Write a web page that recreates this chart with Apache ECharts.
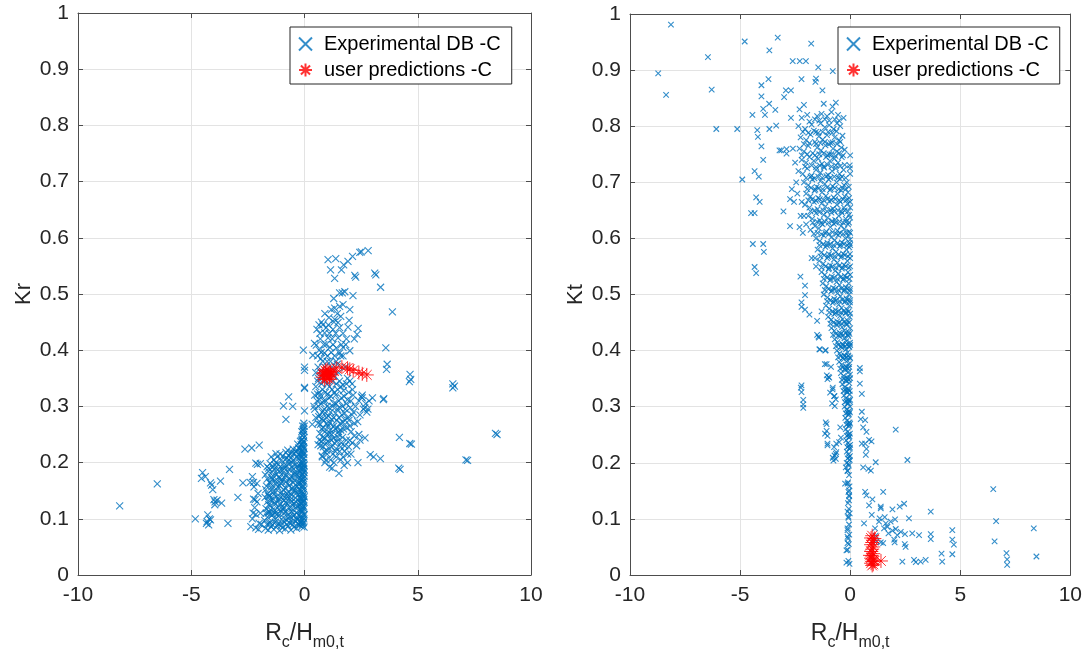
<!DOCTYPE html>
<html><head><meta charset="utf-8">
<script src="https://cdn.jsdelivr.net/npm/echarts@6/dist/echarts.min.js"></script>
<style>html,body{margin:0;padding:0;background:#fff}#c{width:1085px;height:656px}</style>
</head><body><div id="c"></div>
<script>
// ---------- DATA ----------
const seriesNames = ['Experimental DB -C', 'user predictions -C'];
const xMin = -10, xMax = 10, xStep = 5;
const yMin = 0, yMax = 1, yStep = 0.1;
const yNames = ['Kr', 'Kt'];

// Kr (left) experimental: sparse points far left
const krExpSparse = [[-8.16,0.123],[-6.5,0.162],[-4.82,0.1],[-4.5,0.182],[-4.55,0.172],[-4.38,0.175],[-4.15,0.164],[-4.33,0.092],[-4.23,0.089],[-4.27,0.107],[-4.15,0.098],[-4.3,0.095],[-4.2,0.1],[-4.05,0.152],[-4.1,0.16],[-4.0,0.134],[-3.95,0.13],[-3.96,0.125],[-3.86,0.133],[-3.66,0.128],[-3.71,0.167],[-3.31,0.188],[-3.38,0.092],[-2.94,0.138],[-2.72,0.164],[-2.63,0.224],[-2.33,0.226],[-2.0,0.231],[-2.15,0.199],[-2.08,0.197],[-1.95,0.198],[-2.3,0.175],[-2.23,0.157],[-2.25,0.165],[-2.1,0.163],[-2.4,0.165],[-2.05,0.145],[-2.18,0.134],[-2.25,0.135],[-2.1,0.13],[-2.2,0.12],[-2.27,0.11],[-2.15,0.108],[-1.95,0.11],[-2.3,0.1],[-2.37,0.086],[-2.15,0.084],[-2.0,0.092],[-2.03,0.081],[-1.9,0.09]];
// Kr experimental: dense block just below zero
const krExpBlock = [[-1.72,0.083],[-1.6,0.08],[-1.48,0.086],[-1.35,0.081],[-1.22,0.088],[-1.1,0.079],[-0.98,0.084],[-0.85,0.082],[-0.72,0.087],[-0.6,0.08],[-0.47,0.085],[-0.35,0.083],[-0.22,0.089],[-0.12,0.086],[-0.05,0.093],
[-1.76,0.097],[-1.63,0.103],[-1.52,0.094],[-1.4,0.108],[-1.28,0.099],[-1.16,0.105],[-1.03,0.093],[-0.91,0.11],[-0.8,0.098],[-0.67,0.104],[-0.55,0.095],[-0.43,0.107],[-0.3,0.099],[-0.18,0.104],[-0.08,0.097],[-0.02,0.108],
[-1.7,0.118],[-1.58,0.125],[-1.45,0.114],[-1.33,0.128],[-1.2,0.119],[-1.07,0.126],[-0.95,0.116],[-0.83,0.129],[-0.7,0.12],[-0.58,0.113],[-0.46,0.127],[-0.34,0.118],[-0.23,0.125],[-0.12,0.114],[-0.04,0.122],
[-1.74,0.138],[-1.62,0.145],[-1.5,0.133],[-1.37,0.148],[-1.25,0.139],[-1.12,0.135],[-1.0,0.147],[-0.88,0.138],[-0.76,0.144],[-0.63,0.134],[-0.51,0.149],[-0.39,0.137],[-0.27,0.143],[-0.15,0.136],[-0.06,0.146],[-0.01,0.139],
[-1.68,0.158],[-1.55,0.165],[-1.43,0.153],[-1.3,0.168],[-1.18,0.157],[-1.05,0.163],[-0.93,0.152],[-0.81,0.166],[-0.68,0.159],[-0.56,0.154],[-0.44,0.169],[-0.32,0.158],[-0.2,0.164],[-0.1,0.155],[-0.03,0.167],
[-1.73,0.178],[-1.6,0.185],[-1.47,0.174],[-1.35,0.188],[-1.22,0.179],[-1.1,0.172],[-0.97,0.186],[-0.85,0.177],[-0.73,0.183],[-0.6,0.175],[-0.48,0.189],[-0.36,0.179],[-0.25,0.186],[-0.14,0.176],[-0.05,0.184],
[-1.65,0.193],[-1.52,0.198],[-1.4,0.192],[-1.15,0.197],[-1.02,0.205],[-0.9,0.194],[-0.78,0.208],[-0.65,0.199],[-0.52,0.204],[-0.4,0.196],[-0.28,0.207],[-0.17,0.198],[-0.08,0.205],[-0.02,0.195],
[-0.95,0.212],[-0.82,0.218],[-0.62,0.215],[-0.5,0.224],[-0.38,0.219],[-0.26,0.226],[-0.15,0.217],[-0.07,0.228],[-0.03,0.214],
[-0.3,0.233],[-0.18,0.238],[-0.1,0.242],[-0.05,0.25],[-0.12,0.255],[-0.04,0.26],[-0.08,0.265],[-0.02,0.245],[-0.06,0.236],
[-0.25,0.09],[-0.15,0.095],[-0.1,0.12],[-0.2,0.13],[-0.08,0.14],[-0.18,0.15],[-0.28,0.165],[-0.12,0.17],[-0.06,0.19],[-0.22,0.195],[-0.33,0.21],[-0.14,0.21],[-0.04,0.2],[-0.1,0.18],[-0.16,0.115],[-0.07,0.13],[-0.35,0.1],[-0.4,0.15],[-0.45,0.18],[-0.55,0.2],[-0.58,0.13],[-0.65,0.17],[-0.7,0.1],[-0.75,0.14],[-0.9,0.12],[-0.88,0.19],[-1.0,0.17],[-1.1,0.14],[-1.3,0.11],[-1.42,0.17],[-1.55,0.14],[-1.6,0.11],[-1.27,0.2],[-1.12,0.185],
[-1.47,0.21],[-1.26,0.216],[-0.74,0.222],[-0.93,0.301],[-0.7,0.317],[-0.52,0.3],[-0.82,0.277],[0,0.334],[0,0.292],[-0.05,0.4],[0,0.37],[0,0.364],[0,0.332]];
// Kr experimental: extra fill of the same block
const krExpBlockFill = [[-1.66,0.09],[-1.54,0.092],[-1.41,0.089],[-1.29,0.094],[-1.16,0.091],[-1.04,0.088],[-0.91,0.095],[-0.79,0.09],[-0.66,0.093],[-0.53,0.089],[-0.41,0.096],[-0.29,0.091],[-0.17,0.094],[-0.1,0.089],[-0.03,0.1],
[-1.69,0.11],[-1.57,0.113],[-1.44,0.106],[-1.31,0.116],[-1.19,0.109],[-1.06,0.114],[-0.94,0.102],[-0.82,0.112],[-0.69,0.108],[-0.56,0.118],[-0.49,0.105],[-0.37,0.111],[-0.25,0.107],[-0.13,0.117],[-0.06,0.103],
[-1.63,0.131],[-1.51,0.123],[-1.39,0.136],[-1.27,0.127],[-1.14,0.132],[-1.01,0.121],[-0.89,0.133],[-0.77,0.126],[-0.64,0.139],[-0.52,0.124],[-0.4,0.131],[-0.31,0.123],[-0.21,0.137],[-0.11,0.129],[-0.03,0.134],
[-1.71,0.152],[-1.59,0.141],[-1.46,0.157],[-1.34,0.144],[-1.21,0.151],[-1.09,0.159],[-0.96,0.142],[-0.84,0.155],[-0.71,0.148],[-0.59,0.143],[-0.47,0.156],[-0.35,0.146],[-0.24,0.153],[-0.13,0.144],[-0.07,0.158],
[-1.64,0.171],[-1.51,0.163],[-1.38,0.176],[-1.26,0.162],[-1.13,0.174],[-1.0,0.166],[-0.87,0.173],[-0.74,0.162],[-0.62,0.171],[-0.5,0.164],[-0.38,0.175],[-0.26,0.161],[-0.16,0.173],[-0.07,0.165],[-0.01,0.176],
[-1.58,0.19],[-1.44,0.183],[-1.31,0.196],[-1.19,0.187],[-1.06,0.193],[-0.94,0.182],[-0.81,0.195],[-0.69,0.188],[-0.56,0.192],[-0.44,0.183],[-0.32,0.194],[-0.21,0.185],[-0.12,0.196],[-0.03,0.188],
[-1.35,0.205],[-1.2,0.21],[-1.08,0.215],[-0.86,0.205],[-0.72,0.213],[-0.58,0.209],[-0.45,0.217],[-0.34,0.222],[-0.21,0.212],[-0.11,0.223],[-0.04,0.219],[-0.56,0.218],[-0.69,0.205],
[-0.02,0.085],[-0.09,0.092],[-0.14,0.1],[-0.04,0.106],[-0.11,0.112],[-0.02,0.118],[-0.08,0.124],[-0.15,0.127],[-0.03,0.13],[-0.1,0.136],[-0.05,0.143],[-0.12,0.149],[-0.02,0.153],[-0.08,0.16],[-0.15,0.168],[-0.04,0.172],[-0.11,0.178],[-0.02,0.182],[-0.07,0.188],[-0.15,0.19],[-0.05,0.195],[-0.1,0.2],[-0.02,0.208],[-0.09,0.21],[-0.05,0.216],[-0.12,0.22],[-0.02,0.225],[-0.08,0.232],[-0.04,0.238],[-0.13,0.24],[-0.02,0.255],[-0.07,0.258],[-0.03,0.27],[-0.1,0.248],[-0.15,0.232],[-0.2,0.225],[-0.25,0.215],[-0.01,0.265],[-0.05,0.228]];
// Kr experimental: cluster above zero
const krExpPos = [[1.04,0.561],[1.38,0.563],[1.15,0.543],[1.33,0.528],[1.63,0.543],[1.73,0.552],[1.92,0.558],[2.12,0.567],[2.44,0.574],[2.51,0.575],[2.81,0.577],[2.26,0.53],[2.22,0.533],[3.15,0.534],[3.1,0.537],[3.36,0.512],[3.88,0.468],[1.55,0.502],[1.67,0.502],[1.78,0.504],[2.14,0.497],[1.29,0.492],[2.0,0.472],[1.18,0.472],[1.33,0.475],[1.55,0.478],[1.7,0.481],[1.97,0.453],[0.64,0.445],[0.81,0.445],[0.96,0.44],[1.08,0.458],[1.33,0.455],[1.48,0.449],[0.55,0.437],[0.89,0.431],[1.26,0.437],[2.37,0.439],[2.32,0.428],[1.92,0.441],[0.44,0.412],[0.52,0.409],[1.04,0.422],[1.48,0.422],[1.63,0.41],[1.26,0.41],[2.0,0.399],[1.41,0.404],[3.59,0.404],[0.37,0.391],[0.74,0.396],[1.18,0.396],[1.33,0.39],[3.65,0.375],[3.62,0.366],[4.66,0.357],[4.69,0.348],[4.63,0.344],[6.55,0.34],[6.62,0.336],[6.55,0.333],[3.48,0.312],[2.51,0.317],[2.66,0.298],
[0.7,0.42],[0.85,0.41],[1.0,0.38],[1.1,0.43],[1.2,0.37],[1.4,0.38],[1.5,0.36],[1.6,0.39],[1.7,0.43],[1.8,0.37],[0.6,0.37],[0.8,0.38],[1.9,0.35],[2.1,0.34],[1.3,0.45],[1.45,0.465],[1.6,0.46],[0.9,0.465],[0.75,0.45],[1.05,0.445],
[0.55,0.31],[0.62,0.3],[0.7,0.32],[0.78,0.29],[0.85,0.31],[0.92,0.325],[1.0,0.3],[1.08,0.315],[1.15,0.29],[1.22,0.33],[1.3,0.305],[1.38,0.32],[1.45,0.295],[1.52,0.31],[1.6,0.335],[1.68,0.3],[1.75,0.318],[1.85,0.305],[1.95,0.325],[2.05,0.31],[2.15,0.32],[2.25,0.3],[2.4,0.31],[2.55,0.315],[2.7,0.305],[2.85,0.31],[3.0,0.315],[2.6,0.295],[2.75,0.29],[2.45,0.285],
[0.6,0.27],[0.68,0.285],[0.75,0.26],[0.82,0.275],[0.9,0.255],[0.98,0.28],[1.05,0.265],[1.12,0.27],[1.2,0.25],[1.28,0.28],[1.35,0.26],[1.42,0.275],[1.5,0.255],[1.58,0.27],[1.65,0.285],[1.72,0.26],[1.8,0.275],[1.9,0.28],[2.0,0.265],[2.1,0.285],[2.2,0.27],[2.35,0.273],
[0.65,0.24],[0.72,0.23],[0.8,0.245],[0.88,0.22],[0.95,0.235],[1.02,0.25],[1.1,0.225],[1.18,0.24],[1.25,0.215],[1.32,0.235],[1.4,0.225],[1.48,0.245],[1.55,0.22],[1.62,0.235],[1.7,0.21],[1.78,0.23],[1.9,0.215],[2.0,0.24],[2.2,0.247],[2.36,0.2],[1.52,0.181],[1.11,0.192],[0.79,0.21],[0.6,0.232],[0.34,0.268],[1.3,0.2],[0.95,0.205],
[0.5,0.335],[0.58,0.345],[0.65,0.325],[0.75,0.34],[0.88,0.345],[1.0,0.34],[1.1,0.335],[1.25,0.345],[1.4,0.34],[1.55,0.345],[1.7,0.338],[1.85,0.34],[2.0,0.345],[0.45,0.295],[0.5,0.28],
[2.67,0.244],[2.9,0.214],[3.05,0.21],[3.35,0.207],[3.5,0.314],[4.19,0.245],[4.16,0.19],[4.22,0.188],[4.65,0.234],[4.72,0.233],[7.13,0.205],[7.2,0.204],[8.43,0.252],[8.5,0.25],[2.4,0.25],[2.45,0.24],[2.3,0.23],[2.55,0.32],[2.8,0.295]];
// Kr experimental: extra fill of the cluster above zero
const krExpPosFill = [[0.58,0.322],[0.66,0.312],[0.73,0.305],[0.8,0.33],[0.87,0.295],[0.94,0.31],[1.02,0.322],[1.09,0.298],[1.17,0.318],[1.24,0.3],[1.32,0.325],[1.39,0.305],[1.47,0.33],[1.55,0.298],[1.63,0.315],[1.72,0.328],[1.8,0.295],[1.9,0.312],[2.02,0.298],[2.12,0.33],
[0.63,0.282],[0.7,0.268],[0.77,0.278],[0.84,0.262],[0.91,0.288],[0.99,0.27],[1.06,0.283],[1.14,0.258],[1.21,0.276],[1.29,0.265],[1.37,0.288],[1.44,0.262],[1.52,0.28],[1.6,0.258],[1.69,0.272],[1.77,0.288],[1.86,0.262],[1.96,0.275],[2.06,0.255],[2.16,0.29],
[0.68,0.252],[0.75,0.238],[0.83,0.228],[0.9,0.243],[0.97,0.222],[1.05,0.238],[1.13,0.252],[1.2,0.228],[1.28,0.243],[1.36,0.22],[1.44,0.238],[1.52,0.25],[1.6,0.228],[1.68,0.245],[1.76,0.22],[1.85,0.24],[1.95,0.228],[2.1,0.235],
[0.78,0.212],[0.9,0.2],[1.0,0.215],[1.15,0.205],[1.22,0.19],[1.4,0.21],[1.6,0.205],[1.75,0.195],[1.9,0.2],[2.05,0.215],
[0.62,0.35],[0.7,0.362],[0.78,0.355],[0.9,0.37],[1.02,0.39],[1.15,0.38],[1.3,0.355],[1.45,0.375],[1.55,0.395],[1.7,0.39],[1.82,0.41],[0.65,0.4],[0.72,0.385],[0.88,0.395],[0.95,0.41],[1.12,0.405],[1.22,0.42],[1.38,0.43],[1.55,0.44],[0.68,0.43],[0.58,0.39],[1.7,0.405],[1.85,0.42],[2.2,0.42],[0.5,0.36],[0.45,0.32],[0.42,0.3]];
// Kr user predictions
const krPred = [[0.8,0.352],[0.85,0.36],[0.9,0.355],[0.95,0.362],[1.0,0.35],[1.05,0.358],[1.1,0.353],[1.15,0.36],[1.2,0.356],[0.88,0.348],[0.98,0.356],[1.08,0.362],[0.92,0.364],[1.12,0.348],[1.0,0.366],[0.82,0.358],[1.3,0.363],[1.4,0.368],[1.65,0.37],[1.9,0.368],[2.0,0.366],[2.15,0.364],[2.4,0.36],[2.55,0.358],[2.75,0.356]];

// Kt (right) experimental: sparse points far left / top
const ktExpSparse = [[-8.14,0.981],[-8.72,0.894],[-8.36,0.856],[-6.46,0.923],[-6.29,0.865],[-6.08,0.795],[-5.13,0.795],[-4.79,0.951],[-4.9,0.705],[-4.44,0.82],[-4.03,0.853],[-4.03,0.873],[-3.71,0.884],[-3.67,0.935],[-3.29,0.958],[-4.22,0.793],[-4.19,0.781],[-3.67,0.795],[-3.4,0.829],[-3.36,0.801],[-3.68,0.84],[-3.95,0.831],[-3.87,0.82],[-4.03,0.764],[-3.95,0.74],[-4.34,0.72],[-4.15,0.71],[-4.27,0.673],[-4.11,0.665],[-4.5,0.645],[-4.34,0.645],[-4.42,0.59],[-3.95,0.59],[-3.92,0.576],[-4.34,0.549],[-4.27,0.538],[-3.21,0.757],[-3.13,0.757],[-2.89,0.759],[-2.89,0.751],[-3.0,0.852],[-2.92,0.864],[-2.69,0.864],[-2.61,0.916],[-2.29,0.916],[-2.01,0.916],[-2.21,0.884],[-1.77,0.947],[-1.55,0.885],[-1.45,0.905],[-1.58,0.879],[-1.26,0.864],[-0.79,0.898],[-2.69,0.815],[-3.03,0.648],[-2.73,0.622],[-2.73,0.67],[-2.65,0.688],[-2.26,0.532],[-2.05,0.516],[-2.05,0.499],[-2.21,0.486],[-2.21,0.478],[-2.05,0.473],[-1.85,0.464],[-1.5,0.453],[-2.21,0.338],[-2.21,0.326],[-2.13,0.312],[-2.13,0.304],[-2.13,0.298],[-1.5,0.428],[-1.42,0.423],[-1.37,0.402],[-1.11,0.401],[-1.15,0.376],[-1.06,0.356],[-0.95,0.352],[-0.87,0.371],[-1.11,0.272],[-1.14,0.252],[-1.03,0.234],[-0.63,0.234],[-0.71,0.213],[-0.79,0.209],[-0.63,0.219],[-0.82,0.306],[-0.71,0.319],[-0.79,0.334],
[-1.07,0.269],[-1.07,0.257],[-1.03,0.248],[-1.03,0.231],[-0.65,0.207],[-0.65,0.216],[-0.76,0.204],[-0.73,0.228],[-0.5,0.237],[-0.42,0.245],[-0.45,0.263],[-1.07,0.376],[-0.98,0.353],[-1.03,0.349],[-0.91,0.325],[-0.73,0.319],[-0.8,0.331],[-0.65,0.313],[-0.7,0.301],[-1.44,0.425],[-1.4,0.402],[-1.13,0.4],[-2.24,0.334],
[-2.45,0.7],[-2.5,0.735],[-2.6,0.76],[-2.4,0.68],[-2.55,0.665],[-2.3,0.62],[-2.25,0.64],[-2.15,0.61],[-1.75,0.565],[-1.55,0.55],[-1.3,0.47]];
// Kt experimental: main dense band
const ktExpBand = [[-2.1,0.838],[-1.2,0.84],[-0.8,0.835],[-0.65,0.842],[-2.3,0.83],
[-2.2,0.815],[-1.95,0.82],[-1.5,0.818],[-1.3,0.822],[-1.05,0.818],[-0.85,0.825],[-0.55,0.82],[-0.3,0.815],
[-2.35,0.8],[-2.05,0.795],[-1.75,0.803],[-1.55,0.79],[-1.35,0.805],[-1.15,0.798],[-0.95,0.802],[-0.75,0.795],[-0.6,0.805],[-0.45,0.8],
[-2.25,0.78],[-2.0,0.775],[-1.8,0.785],[-1.6,0.772],[-1.42,0.782],[-1.25,0.776],[-1.05,0.784],[-0.88,0.77],[-0.7,0.78],[-0.5,0.775],[-0.35,0.783],
[-2.3,0.76],[-2.1,0.755],[-1.9,0.765],[-1.7,0.752],[-1.5,0.762],[-1.32,0.757],[-1.12,0.766],[-0.95,0.75],[-0.78,0.76],[-0.6,0.755],[-0.4,0.762],[-0.25,0.758],
[-2.2,0.74],[-2.0,0.735],[-1.85,0.745],[-1.65,0.738],[-1.45,0.742],[-1.28,0.733],[-1.1,0.745],[-0.92,0.738],[-0.72,0.742],[-0.55,0.735],[-0.38,0.745],[0,0.748],[-0.02,0.73],
[-2.35,0.72],[-2.15,0.715],[-1.95,0.725],[-1.75,0.712],[-1.55,0.722],[-1.35,0.717],[-1.18,0.726],[-1.0,0.713],[-0.82,0.72],[-0.65,0.725],[-0.48,0.715],[-0.3,0.722],[0,0.715],[-0.01,0.725],
[-2.1,0.7],[-1.9,0.695],[-1.72,0.705],[-1.52,0.692],[-1.35,0.702],[-1.15,0.697],[-0.98,0.705],[-0.8,0.693],[-0.62,0.7],[-0.45,0.706],[-0.28,0.695],[-0.15,0.7],
[-2.0,0.68],[-1.8,0.675],[-1.62,0.685],[-1.45,0.672],[-1.28,0.682],[-1.1,0.676],[-0.92,0.686],[-0.75,0.673],[-0.58,0.68],[-0.4,0.685],[-0.25,0.675],[-0.1,0.682],[0,0.665],[0,0.655],
[-2.05,0.66],[-1.85,0.655],[-1.65,0.665],[-1.48,0.652],[-1.3,0.662],[-1.12,0.657],[-0.95,0.666],[-0.78,0.653],[-0.6,0.66],[-0.44,0.665],[-0.28,0.655],[-0.12,0.662],[-2.2,0.665],
[-1.9,0.64],[-1.72,0.635],[-1.55,0.645],[-1.38,0.632],[-1.2,0.642],[-1.02,0.637],[-0.85,0.646],[-0.68,0.633],[-0.52,0.64],[-0.36,0.645],[-0.2,0.635],[-0.05,0.642],[0,0.637],[-2.1,0.64],
[-2.0,0.625],[-1.8,0.615],[-1.6,0.622],[-1.42,0.618],[-1.25,0.625],[-1.08,0.612],[-0.9,0.62],[-0.74,0.626],[-0.58,0.614],[-0.42,0.622],[-0.26,0.617],[-0.1,0.625],[0,0.61],
[-1.55,0.6],[-1.38,0.595],[-1.2,0.605],[-1.03,0.592],[-0.86,0.602],[-0.7,0.597],[-0.54,0.606],[-0.38,0.593],[-0.22,0.6],[-0.08,0.604],[0,0.598],[0,0.588],
[-1.48,0.58],[-1.3,0.575],[-1.13,0.585],[-0.96,0.572],[-0.8,0.582],[-0.64,0.576],[-0.48,0.586],[-0.32,0.573],[-0.17,0.58],[-0.04,0.584],[-1.6,0.565],
[-1.4,0.56],[-1.22,0.555],[-1.05,0.565],[-0.9,0.552],[-0.74,0.562],[-0.58,0.557],[-0.43,0.566],[-0.28,0.553],[-0.13,0.56],[0,0.565],[0,0.55],
[-1.3,0.54],[-1.15,0.535],[-0.98,0.545],[-0.83,0.532],[-0.68,0.542],[-0.53,0.537],[-0.38,0.546],[-0.24,0.533],[-0.1,0.54],[0,0.535],
[-1.25,0.52],[-1.08,0.515],[-0.92,0.525],[-0.77,0.512],[-0.62,0.522],[-0.48,0.517],[-0.33,0.526],[-0.2,0.513],[-0.07,0.52],[0,0.51],
[-1.2,0.5],[-1.03,0.495],[-0.87,0.505],[-0.72,0.492],[-0.58,0.502],[-0.44,0.497],[-0.3,0.506],[-0.17,0.493],[-0.05,0.5],[0,0.49],
[-1.1,0.48],[-0.95,0.475],[-0.8,0.485],[-0.66,0.472],[-0.52,0.482],[-0.39,0.476],[-0.26,0.486],[-0.14,0.473],[-0.03,0.48],
[-1.0,0.46],[-0.86,0.455],[-0.72,0.465],[-0.59,0.452],[-0.46,0.462],[-0.34,0.456],[-0.22,0.466],[-0.11,0.453],[-0.02,0.46],
[-0.85,0.44],[-0.72,0.435],[-0.6,0.445],[-0.48,0.432],[-0.37,0.442],[-0.26,0.436],[-0.16,0.446],[-0.07,0.433],[0,0.44],
[-0.7,0.42],[-0.58,0.415],[-0.47,0.425],[-0.36,0.412],[-0.26,0.422],[-0.17,0.417],[-0.08,0.426],[-0.01,0.414],
[-0.6,0.4],[-0.48,0.395],[-0.37,0.405],[-0.28,0.392],[-0.19,0.402],[-0.11,0.397],[-0.04,0.406],
[-0.5,0.38],[-0.38,0.375],[-0.29,0.385],[-0.2,0.372],[-0.12,0.382],[-0.05,0.376],[0,0.386],
[-0.42,0.36],[-0.3,0.355],[-0.22,0.365],[-0.14,0.352],[-0.07,0.362],[-0.01,0.357],
[-0.35,0.34],[-0.25,0.335],[-0.17,0.345],[-0.1,0.332],[-0.04,0.342],
[-0.28,0.32],[-0.2,0.315],[-0.13,0.325],[-0.07,0.312],[-0.02,0.322],
[-0.25,0.3],[-0.16,0.295],[-0.1,0.305],[-0.04,0.292],[0,0.3],
[-0.22,0.28],[-0.14,0.275],[-0.08,0.285],[-0.03,0.272],
[-0.2,0.26],[-0.12,0.255],[-0.06,0.265],[-0.01,0.252],
[-0.18,0.24],[-0.1,0.235],[-0.05,0.245],[0,0.232],
[-0.15,0.22],[-0.08,0.215],[-0.03,0.225],
[-0.16,0.2],[-0.06,0.195],[-0.02,0.205],
[-0.12,0.185],[-0.05,0.178],[-0.1,0.165],[-0.03,0.158],[-0.08,0.148],[-0.04,0.14],[-0.1,0.128],[-0.06,0.118],[-0.02,0.11],[-0.08,0.102],[-0.05,0.09],[-0.12,0.08],[-0.04,0.072],[-0.1,0.065],[-0.06,0.055],[-0.12,0.045],[-0.08,0.025],[-0.03,0.02],[-0.17,0.022],[-0.17,0.044],[-0.12,0.057],[-0.12,0.068],[-0.12,0.083],[-0.08,0.104],[-0.12,0.113],[-0.05,0.133],[-0.05,0.142],[-0.05,0.151],[-0.12,0.163],[-0.23,0.163],[-0.12,0.186],[-0.2,0.192],[-0.08,0.198]];
// Kt experimental: extra fill of the main band
const ktExpBandFill = [[-1.85,0.808],[-1.6,0.812],[-1.4,0.81],[-1.15,0.812],[-0.95,0.81],[-0.7,0.812],[-0.5,0.81],
[-2.15,0.79],[-1.9,0.788],[-1.65,0.792],[-1.45,0.788],[-1.25,0.79],[-1.0,0.79],[-0.82,0.788],[-0.62,0.791],
[-2.1,0.768],[-1.85,0.77],[-1.55,0.768],[-1.35,0.77],[-1.15,0.772],[-0.98,0.768],[-0.8,0.771],[-0.6,0.768],[-0.45,0.772],
[-2.2,0.748],[-1.95,0.75],[-1.6,0.748],[-1.4,0.75],[-1.2,0.752],[-1.03,0.748],[-0.85,0.75],[-0.67,0.747],[-0.5,0.752],[-0.32,0.748],
[-2.05,0.728],[-1.75,0.73],[-1.55,0.727],[-1.38,0.73],[-1.2,0.728],[-1.02,0.731],[-0.85,0.728],[-0.65,0.73],[-0.45,0.729],[-0.25,0.731],
[-2.0,0.708],[-1.8,0.71],[-1.62,0.707],[-1.45,0.71],[-1.27,0.708],[-1.08,0.711],[-0.9,0.708],[-0.72,0.71],[-0.55,0.708],[-0.38,0.71],[-0.2,0.708],
[-1.95,0.688],[-1.78,0.69],[-1.58,0.687],[-1.42,0.69],[-1.25,0.688],[-1.05,0.691],[-0.88,0.688],[-0.7,0.69],[-0.52,0.688],[-0.35,0.69],[-0.2,0.688],[-0.06,0.692],
[-1.9,0.668],[-1.72,0.67],[-1.55,0.667],[-1.38,0.67],[-1.2,0.668],[-1.02,0.671],[-0.85,0.668],[-0.68,0.67],[-0.5,0.668],[-0.33,0.67],[-0.18,0.668],[-0.05,0.672],
[-1.8,0.648],[-1.62,0.65],[-1.4,0.647],[-1.22,0.65],[-1.05,0.648],[-0.88,0.651],[-0.72,0.648],[-0.55,0.65],[-0.4,0.648],[-0.25,0.65],[-0.1,0.648],
[-1.7,0.628],[-1.5,0.63],[-1.32,0.627],[-1.15,0.63],[-0.98,0.628],[-0.82,0.631],[-0.65,0.628],[-0.48,0.63],[-0.32,0.628],[-0.18,0.63],[-0.05,0.628],
[-1.65,0.608],[-1.48,0.61],[-1.3,0.607],[-1.13,0.61],[-0.96,0.608],[-0.8,0.611],[-0.63,0.608],[-0.47,0.61],[-0.32,0.608],[-0.17,0.61],[-0.04,0.612],
[-1.4,0.588],[-1.22,0.59],[-1.05,0.587],[-0.9,0.59],[-0.75,0.588],[-0.58,0.591],[-0.43,0.588],[-0.28,0.59],[-0.13,0.588],[-0.02,0.592],
[-1.35,0.568],[-1.18,0.57],[-1.0,0.567],[-0.85,0.57],[-0.7,0.568],[-0.53,0.571],[-0.38,0.568],[-0.24,0.57],[-0.1,0.568],[-0.01,0.572],
[-1.3,0.548],[-1.12,0.55],[-0.96,0.547],[-0.8,0.55],[-0.65,0.548],[-0.5,0.551],[-0.35,0.548],[-0.2,0.55],[-0.06,0.548],
[-1.2,0.528],[-1.05,0.53],[-0.88,0.527],[-0.73,0.53],[-0.58,0.528],[-0.43,0.531],[-0.29,0.528],[-0.15,0.53],[-0.03,0.528],
[-1.15,0.508],[-0.98,0.51],[-0.82,0.507],[-0.68,0.51],[-0.53,0.508],[-0.39,0.511],[-0.25,0.508],[-0.12,0.51],[-0.02,0.506],
[-1.05,0.488],[-0.9,0.49],[-0.75,0.487],[-0.62,0.49],[-0.48,0.488],[-0.35,0.491],[-0.22,0.488],[-0.1,0.49],[-0.01,0.486],
[-0.95,0.468],[-0.8,0.47],[-0.66,0.467],[-0.53,0.47],[-0.41,0.468],[-0.29,0.471],[-0.18,0.468],[-0.07,0.47],[0,0.466],
[-0.9,0.448],[-0.76,0.45],[-0.62,0.447],[-0.5,0.45],[-0.38,0.448],[-0.27,0.451],[-0.15,0.448],[-0.05,0.45],
[-0.78,0.428],[-0.65,0.43],[-0.53,0.427],[-0.42,0.43],[-0.31,0.428],[-0.21,0.431],[-0.11,0.428],[-0.03,0.43],
[-0.65,0.408],[-0.53,0.41],[-0.42,0.407],[-0.32,0.41],[-0.22,0.408],[-0.14,0.411],[-0.06,0.408],[0,0.41],
[-0.55,0.388],[-0.43,0.39],[-0.33,0.387],[-0.24,0.39],[-0.15,0.388],[-0.08,0.391],[-0.02,0.388],
[-0.45,0.368],[-0.34,0.37],[-0.25,0.367],[-0.17,0.37],[-0.1,0.368],[-0.04,0.371],
[-0.38,0.348],[-0.28,0.35],[-0.2,0.347],[-0.12,0.35],[-0.06,0.348],[0,0.351],
[-0.3,0.328],[-0.22,0.33],[-0.15,0.327],[-0.08,0.33],[-0.02,0.328],
[-0.24,0.308],[-0.17,0.31],[-0.1,0.307],[-0.04,0.31],[0,0.312],
[-0.2,0.288],[-0.12,0.29],[-0.06,0.287],[-0.01,0.29],
[-0.17,0.268],[-0.1,0.27],[-0.04,0.267],[0,0.27],
[-0.15,0.248],[-0.08,0.25],[-0.03,0.247],
[-0.13,0.228],[-0.06,0.23],[-0.01,0.227],
[-0.11,0.208],[-0.05,0.21],[-0.01,0.212]];
// Kt experimental: points above zero
const ktExpPos = [[0.44,0.369],[0.44,0.363],[0.44,0.341],[0.53,0.323],[0.53,0.291],[0.48,0.278],[0.68,0.276],[0.59,0.263],[0.74,0.255],[0.53,0.234],[0.68,0.234],[0.74,0.225],[0.97,0.238],[0.86,0.241],[0.71,0.214],[1.16,0.201],[0.59,0.192],[0.83,0.189],[0.94,0.186],[2.07,0.259],[2.6,0.205],[0.68,0.148],[0.74,0.142],[1.5,0.148],[1.01,0.135],[0.86,0.124],[1.39,0.122],[1.39,0.119],[1.92,0.117],[2.25,0.122],[2.45,0.127],[3.66,0.113],[0.63,0.092],[0.98,0.107],[1.34,0.101],[1.57,0.103],[1.31,0.095],[1.62,0.092],[1.84,0.095],[2.04,0.099],[2.67,0.101],[1.13,0.083],[1.54,0.083],[1.69,0.086],[1.74,0.074],[1.92,0.079],[2.07,0.082],[2.14,0.071],[2.3,0.077],[2.49,0.073],[2.82,0.074],[3.13,0.071],[3.66,0.073],[3.66,0.064],[4.64,0.08],[4.71,0.054],[4.64,0.063],[1.5,0.057],[1.39,0.058],[2.02,0.058],[2.0,0.063],[2.48,0.055],[2.52,0.05],[2.37,0.024],[2.9,0.027],[2.98,0.023],[3.2,0.024],[3.43,0.027],[4.15,0.038],[4.18,0.024],[4.64,0.037],[6.5,0.153],[6.63,0.096],[6.56,0.06],[7.1,0.039],[7.13,0.028],[7.13,0.018],[8.34,0.083],[8.46,0.033],[1.19,0.06],[1.16,0.07]];
// Kt user predictions
const ktPred = [[1.0,0.07],[0.95,0.066],[1.05,0.062],[1.0,0.058],[0.95,0.054],[1.05,0.05],[1.0,0.046],[0.95,0.042],[1.05,0.038],[1.0,0.034],[0.95,0.03],[1.05,0.027],[1.0,0.024],[0.95,0.021],[1.05,0.019],[1.0,0.017],[1.4,0.025],[1.1,0.065],[0.9,0.035],[1.1,0.025]];

// ---------- CHART ----------
const FF = '"Liberation Sans", Arial, Helvetica, sans-serif';
const AX = '#4d4d4d', GRID = '#e3e3e3', TXT = '#262626';
const XSYM = 'path://M0,0L10,10M10,0L0,10';
const STAR = 'path://M5,0L5,10M0,5L10,5M1.5,1.5L8.5,8.5M8.5,1.5L1.5,8.5';
const grids = [
  {left: 78, top: 13, width: 453, height: 565},
  {left: 630, top: 14, width: 441, height: 565}
];
const xName = '{a|R}{b|c}{a|/H}{b|m0,t}';
const nameRich = {
  a: {fontSize: 23, fontFamily: FF, color: TXT, verticalAlign: 'top'},
  b: {fontSize: 16, fontFamily: FF, color: TXT, verticalAlign: 'bottom', padding: [13, 0, 0, 0]}
};
const xAxes = [], yAxes = [];
grids.forEach((g, i) => {
  xAxes.push({gridIndex: i, type: 'value', min: xMin, max: xMax, interval: xStep, position: 'bottom',
    axisLine: {show: true, onZero: false, lineStyle: {color: AX, width: 1}},
    axisTick: {show: true, inside: true, length: 5, lineStyle: {color: AX}},
    axisLabel: {fontSize: 21, color: TXT, fontFamily: FF, margin: 10, showMinLabel: true, showMaxLabel: true},
    splitLine: {show: true, lineStyle: {color: GRID, width: 1}},
    name: xName, nameLocation: 'middle', nameGap: 47, nameTextStyle: {rich: nameRich}});
  xAxes.push({gridIndex: i, type: 'value', min: xMin, max: xMax, interval: xStep, position: 'top',
    axisLine: {show: true, onZero: false, lineStyle: {color: AX, width: 1}},
    axisTick: {show: true, inside: true, length: 5, lineStyle: {color: AX}},
    axisLabel: {show: false}, splitLine: {show: false}});
  yAxes.push({gridIndex: i, type: 'value', min: yMin, max: yMax, interval: yStep, position: 'left',
    axisLine: {show: true, onZero: false, lineStyle: {color: AX, width: 1}},
    axisTick: {show: true, inside: true, length: 5, lineStyle: {color: AX}},
    axisLabel: {fontSize: 21, color: TXT, fontFamily: FF, margin: 9, showMinLabel: true, showMaxLabel: true,
      formatter: v => String(+v.toFixed(1))},
    splitLine: {show: true, lineStyle: {color: GRID, width: 1}},
    name: yNames[i], nameLocation: 'middle', nameGap: 43,
    nameTextStyle: {fontSize: 22, color: TXT, fontFamily: FF}});
  yAxes.push({gridIndex: i, type: 'value', min: yMin, max: yMax, interval: yStep, position: 'right',
    axisLine: {show: true, onZero: false, lineStyle: {color: AX, width: 1}},
    axisTick: {show: true, inside: true, length: 5, lineStyle: {color: AX}},
    axisLabel: {show: false}, splitLine: {show: false}});
});
function expSeries(data, ax, size) {
  return {type: 'scatter', name: seriesNames[0], xAxisIndex: ax, yAxisIndex: ax, data: data,
    symbol: XSYM, symbolSize: size, silent: true,
    itemStyle: {color: 'rgba(0,0,0,0)', borderColor: '#0072BD', borderWidth: 1.1}};
}
function predSeries(data, ax) {
  return {type: 'scatter', name: seriesNames[1], xAxisIndex: ax, yAxisIndex: ax, data: data,
    symbol: STAR, symbolSize: 14, silent: true, z: 3,
    itemStyle: {color: 'rgba(0,0,0,0)', borderColor: '#FF0000', borderWidth: 1}};
}
function mkLegend(left) {
  return {left: left, top: 27, orient: 'vertical', selectedMode: false,
    data: seriesNames.map(n => ({name: n})),
    itemWidth: 27, itemHeight: 13, itemGap: 6, padding: [7, 11, 4, 8],
    borderColor: '#262626', borderWidth: 1, backgroundColor: '#fff',
    textStyle: {fontSize: 20, color: '#000', fontFamily: FF}};
}
const chart = echarts.init(document.getElementById('c'), null, {renderer: 'canvas'});
chart.setOption({
  animation: false,
  backgroundColor: '#fff',
  grid: grids,
  xAxis: xAxes,
  yAxis: yAxes,
  legend: [mkLegend(290), mkLegend(838)],
  series: [
    expSeries(krExpSparse, 0, 7), expSeries(krExpBlock, 0, 7), expSeries(krExpBlockFill, 0, 7),
    expSeries(krExpPos, 0, 7), expSeries(krExpPosFill, 0, 7), predSeries(krPred, 0),
    expSeries(ktExpSparse, 2, 5.5), expSeries(ktExpBand, 2, 5.5), expSeries(ktExpBandFill, 2, 5.5),
    expSeries(ktExpPos, 2, 5.5), predSeries(ktPred, 2)
  ]
});
</script>
</body></html>
